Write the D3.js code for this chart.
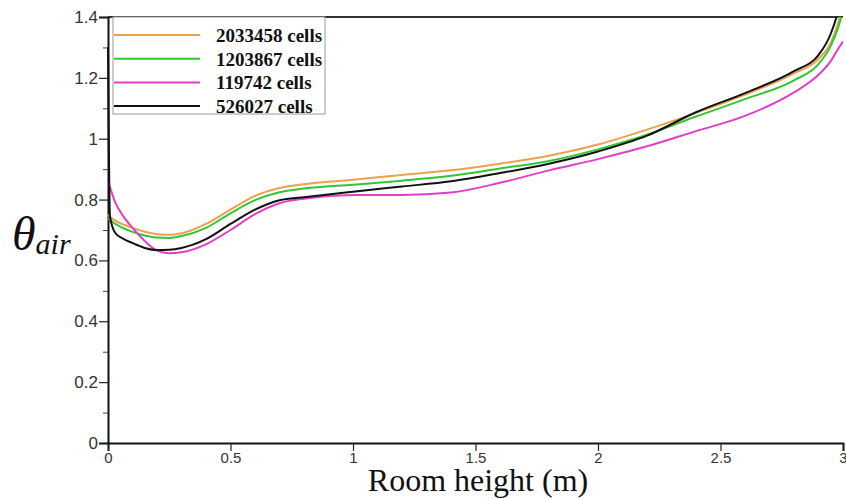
<!DOCTYPE html>
<html>
<head>
<meta charset="utf-8">
<script src="https://cdn.jsdelivr.net/npm/d3@7"></script>
<style>
  body { margin: 0; background: #fff; }
</style>
</head>
<body>
<div id="chart-area"></div>
<script>
// room height (m), shared by every mesh
const heights = [0, 0.008, 0.03, 0.06, 0.1, 0.15, 0.2, 0.25, 0.3, 0.4, 0.5, 0.6, 0.7, 0.8,
  1.0, 1.2, 1.4, 1.6, 1.8, 2.0, 2.2, 2.4, 2.6, 2.8, 2.9, 2.95, 2.98, 3.0];

const cells2033458 = [0.750, 0.743, 0.731, 0.719, 0.707, 0.694, 0.686, 0.684, 0.689, 0.720, 0.767, 0.812, 0.838, 0.850,
  0.865, 0.881, 0.896, 0.918, 0.944, 0.981, 1.030, 1.085, 1.145, 1.215, 1.262, 1.315, 1.38, 1.45];
const cells1203867 = [0.738, 0.733, 0.720, 0.707, 0.694, 0.682, 0.675, 0.674, 0.680, 0.707, 0.755, 0.798, 0.824, 0.836,
  0.849, 0.862, 0.878, 0.902, 0.927, 0.965, 1.013, 1.073, 1.130, 1.192, 1.245, 1.305, 1.365, 1.42];
const cells119742 = [0.858, 0.840, 0.790, 0.748, 0.707, 0.664, 0.632, 0.624, 0.627, 0.653, 0.700, 0.752, 0.788, 0.803,
  0.815, 0.815, 0.823, 0.855, 0.896, 0.933, 0.975, 1.025, 1.075, 1.152, 1.210, 1.255, 1.295, 1.32];
const cells526027 = [1.30, 0.745, 0.690, 0.672, 0.657, 0.641, 0.634, 0.635, 0.641, 0.670, 0.720, 0.767, 0.798, 0.808,
  0.826, 0.843, 0.860, 0.887, 0.918, 0.958, 1.010, 1.087, 1.150, 1.222, 1.275, 1.345, 1.42, 1.50];

const seriesNames = ["2033458 cells", "1203867 cells", "119742 cells", "526027 cells"];
const seriesValues = [cells2033458, cells1203867, cells119742, cells526027];
const seriesColors = ["#eea04c", "#33c633", "#e23fc6", "#111111"];

const xTicks = [0, 0.5, 1, 1.5, 2, 2.5, 3];
const xTickLabels = ["0", "0.5", "1", "1.5", "2", "2.5", "3"];
const yTicks = [0, 0.2, 0.4, 0.6, 0.8, 1, 1.2, 1.4];
const yTickLabels = ["0", "0.2", "0.4", "0.6", "0.8", "1", "1.2", "1.4"];
const yMinorTicks = [0.1, 0.3, 0.5, 0.7, 0.9, 1.1, 1.3];

const margin = { left: 108, right: 3, top: 17, bottom: 56 };
const width = 846 - margin.left - margin.right;
const height = 499 - margin.top - margin.bottom;

const svg = d3.select("#chart-area")
  .append("svg")
    .attr("width", width + margin.left + margin.right)
    .attr("height", height + margin.top + margin.bottom);

const g = svg.append("g")
  .attr("transform", "translate(" + margin.left + "," + margin.top + ")");

const x = d3.scaleLinear().domain([0, 3]).range([0, width]);
const y = d3.scaleLinear().domain([0, 1.4]).range([height, 0]);

g.append("clipPath").attr("id", "plot-clip")
  .append("rect")
    .attr("x", -1).attr("y", 0)
    .attr("width", width + 1).attr("height", height);

// top frame line
g.append("line")
  .attr("x1", 0).attr("x2", width)
  .attr("y1", 0).attr("y2", 0)
  .attr("stroke", "#333").attr("stroke-width", 2);

// axes
const xAxisCall = d3.axisBottom(x)
  .tickValues(xTicks)
  .tickFormat((d, i) => xTickLabels[i])
  .tickSize(8)
  .tickPadding(1);
const xAxis = g.append("g")
  .attr("class", "x axis")
  .attr("transform", "translate(0, " + height + ")")
  .call(xAxisCall);
xAxis.select(".domain").attr("stroke", "#111").attr("stroke-width", 2);
xAxis.selectAll(".tick line").attr("stroke", "#222").attr("stroke-width", 1.2);
xAxis.selectAll("text")
  .attr("font-family", "Liberation Sans, Arial, sans-serif")
  .attr("font-size", "15px")
  .attr("fill", "#333");

const yAxisCall = d3.axisLeft(y)
  .tickValues(yTicks)
  .tickFormat((d, i) => yTickLabels[i])
  .tickSize(9)
  .tickPadding(1);
const yAxis = g.append("g")
  .attr("class", "y axis")
  .call(yAxisCall);
yAxis.select(".domain").attr("stroke", "#111").attr("stroke-width", 2);
yAxis.selectAll(".tick line").attr("stroke", "#222").attr("stroke-width", 1.2);
yAxis.selectAll("text")
  .attr("font-family", "Liberation Sans, Arial, sans-serif")
  .attr("font-size", "17px")
  .attr("fill", "#333");

const yMinorCall = d3.axisLeft(y)
  .tickValues(yMinorTicks)
  .tickFormat("")
  .tickSize(5);
const yMinor = g.append("g").attr("class", "y minor").call(yMinorCall);
yMinor.select(".domain").remove();
yMinor.selectAll(".tick line").attr("stroke", "#444").attr("stroke-width", 1);

// curves, drawn over the axis so the wall values show
const line = d3.line()
  .x((d) => x(d[0]))
  .y((d) => y(d[1]))
  .curve(d3.curveMonotoneX);

const curves = g.append("g").attr("clip-path", "url(#plot-clip)");
seriesValues.forEach((vals, i) => {
  curves.append("path")
    .datum(heights.map((h, j) => [h, vals[j]]))
    .attr("fill", "none")
    .attr("stroke", seriesColors[i])
    .attr("stroke-width", 2)
    .attr("stroke-linejoin", "round")
    .attr("d", line);
});

// axis labels
svg.append("text")
  .attr("class", "x axis-label")
  .attr("x", 478)
  .attr("y", 491)
  .attr("font-family", "Liberation Serif, Times New Roman, serif")
  .attr("font-size", "32px")
  .attr("text-anchor", "middle")
  .attr("fill", "#111")
  .text("Room height (m)");

const yLabel = svg.append("text")
  .attr("class", "y axis-label")
  .attr("x", 12)
  .attr("y", 250)
  .attr("font-family", "Liberation Serif, Times New Roman, serif")
  .attr("font-style", "italic")
  .attr("fill", "#111");
yLabel.append("tspan").attr("font-size", "48px").text("θ");
yLabel.append("tspan").attr("font-size", "30px").attr("dy", 4).text("air");

// legend
const legend = svg.append("g").attr("class", "legend");
legend.append("rect")
  .attr("x", 113).attr("y", 17)
  .attr("width", 212).attr("height", 97)
  .attr("fill", "#fff")
  .attr("stroke", "#999")
  .attr("stroke-width", 1);
seriesNames.forEach((name, i) => {
  const ly = 35 + i * 23.7;
  legend.append("line")
    .attr("x1", 114).attr("x2", 200)
    .attr("y1", ly).attr("y2", ly)
    .attr("stroke", seriesColors[i])
    .attr("stroke-width", 2);
  legend.append("text")
    .attr("x", 216).attr("y", ly + 7)
    .attr("font-family", "Liberation Serif, Times New Roman, serif")
    .attr("font-weight", "bold")
    .attr("font-size", "19px")
    .attr("fill", "#111")
    .text(name);
});
</script>
</body>
</html>
